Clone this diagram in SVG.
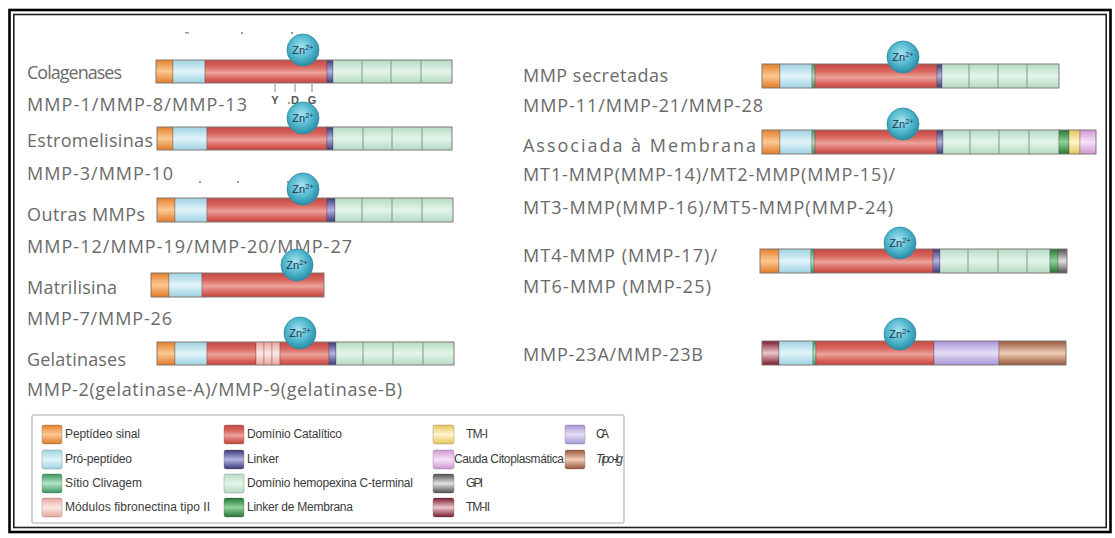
<svg xmlns="http://www.w3.org/2000/svg" width="1115" height="538" viewBox="0 0 1115 538">
<defs>
<style>
.lbl{font-family:"Open Sans","Liberation Sans",sans-serif;font-size:18px;fill:#6a6a6a;}
.leg{font-family:"Liberation Sans","Open Sans",sans-serif;font-size:12px;fill:#3a3a3a;}
.ydg{font-family:"Liberation Sans",sans-serif;font-size:11px;fill:#555;font-weight:bold;}
.zn{font-family:"Liberation Sans",sans-serif;font-size:11px;fill:#1d3550;}
.seg{stroke:rgba(70,50,50,0.35);stroke-width:0.8;}
.div{stroke:#7d9a88;stroke-width:1;}
.out{fill:none;stroke:#8c8680;stroke-width:0.8;}
.sw{stroke:rgba(80,80,80,0.35);stroke-width:0.8;}
.tick{stroke:#888;stroke-width:1;}
.dot{fill:#9a9a9a;}
.znc{fill:url(#gZn);stroke:#2b8aa3;stroke-width:0.8;}
</style>
<linearGradient id="gO" x1="0" y1="0" x2="0" y2="1"><stop offset="0" stop-color="#e3802c"/><stop offset="0.5" stop-color="#fcc893"/><stop offset="1" stop-color="#e07b28"/></linearGradient>
<linearGradient id="gB" x1="0" y1="0" x2="0" y2="1"><stop offset="0" stop-color="#9fd2e2"/><stop offset="0.5" stop-color="#e2f4f9"/><stop offset="1" stop-color="#9fd2e2"/></linearGradient>
<linearGradient id="gR" x1="0" y1="0" x2="0" y2="1"><stop offset="0" stop-color="#c44a44"/><stop offset="0.3" stop-color="#d9665f"/><stop offset="0.55" stop-color="#eba39b"/><stop offset="0.8" stop-color="#d9665f"/><stop offset="1" stop-color="#c0453f"/></linearGradient>
<linearGradient id="gG" x1="0" y1="0" x2="0" y2="1"><stop offset="0" stop-color="#b5dbc4"/><stop offset="0.5" stop-color="#e3f5ea"/><stop offset="1" stop-color="#b5dbc4"/></linearGradient>
<linearGradient id="gL" x1="0" y1="0" x2="0" y2="1"><stop offset="0" stop-color="#3a3a7c"/><stop offset="0.5" stop-color="#b4b2e2"/><stop offset="1" stop-color="#3a3a7c"/></linearGradient>
<linearGradient id="gDG" x1="0" y1="0" x2="0" y2="1"><stop offset="0" stop-color="#237533"/><stop offset="0.5" stop-color="#8ed49b"/><stop offset="1" stop-color="#237533"/></linearGradient>
<linearGradient id="gSC" x1="0" y1="0" x2="0" y2="1"><stop offset="0" stop-color="#3c9660"/><stop offset="0.5" stop-color="#b2e4c6"/><stop offset="1" stop-color="#3c9660"/></linearGradient>
<linearGradient id="gY" x1="0" y1="0" x2="0" y2="1"><stop offset="0" stop-color="#e6c45a"/><stop offset="0.5" stop-color="#fff5cc"/><stop offset="1" stop-color="#e6c45a"/></linearGradient>
<linearGradient id="gP" x1="0" y1="0" x2="0" y2="1"><stop offset="0" stop-color="#cf97d3"/><stop offset="0.5" stop-color="#f7e3f7"/><stop offset="1" stop-color="#cf97d3"/></linearGradient>
<linearGradient id="gGr" x1="0" y1="0" x2="0" y2="1"><stop offset="0" stop-color="#505050"/><stop offset="0.5" stop-color="#e0e0e0"/><stop offset="1" stop-color="#505050"/></linearGradient>
<linearGradient id="gM" x1="0" y1="0" x2="0" y2="1"><stop offset="0" stop-color="#7a1a2e"/><stop offset="0.5" stop-color="#ecc6cc"/><stop offset="1" stop-color="#7a1a2e"/></linearGradient>
<linearGradient id="gCA" x1="0" y1="0" x2="0" y2="1"><stop offset="0" stop-color="#a594d6"/><stop offset="0.5" stop-color="#e6def7"/><stop offset="1" stop-color="#a594d6"/></linearGradient>
<linearGradient id="gBr" x1="0" y1="0" x2="0" y2="1"><stop offset="0" stop-color="#97563a"/><stop offset="0.5" stop-color="#efcdb6"/><stop offset="1" stop-color="#97563a"/></linearGradient>
<linearGradient id="gF" x1="0" y1="0" x2="0" y2="1"><stop offset="0" stop-color="#e6a49c"/><stop offset="0.5" stop-color="#fce6e2"/><stop offset="1" stop-color="#e6a49c"/></linearGradient>
<radialGradient id="gZn" cx="0.45" cy="0.4" r="0.6"><stop offset="0" stop-color="#a8e4f0"/><stop offset="0.6" stop-color="#4fb6cc"/><stop offset="1" stop-color="#2a8ca6"/></radialGradient>
</defs>

<rect x="0" y="0" width="1115" height="538" fill="#ffffff"/>
<!-- frame -->
<rect x="9.5" y="10" width="1101" height="522" fill="none" stroke="#000" stroke-width="2.6"/>
<rect x="13.8" y="14.5" width="1092.4" height="513" fill="none" stroke="#222" stroke-width="1.6"/>

<!-- small artifact marks -->
<g id="marks">
<rect class="dot" x="185" y="32" width="4" height="1.5"/>
<rect class="dot" x="241" y="32" width="2" height="2"/>
<rect class="dot" x="291" y="32" width="2" height="2"/>
<rect class="dot" x="199" y="181" width="2" height="2"/>
<rect class="dot" x="237" y="181" width="2" height="2"/>
<rect class="dot" x="287" y="181" width="2" height="2"/>
</g>

<!-- labels -->
<g id="labels-left">
<text class="lbl" x="27" y="79" textLength="95">Colagenases</text>
<text class="lbl" x="27" y="111" textLength="220">MMP-1/MMP-8/MMP-13</text>
<text class="lbl" x="27" y="147" textLength="126">Estromelisinas</text>
<text class="lbl" x="27" y="180" textLength="146">MMP-3/MMP-10</text>
<text class="lbl" x="27" y="221" textLength="118">Outras MMPs</text>
<text class="lbl" x="27" y="253" textLength="325">MMP-12/MMP-19/MMP-20/MMP-27</text>
<text class="lbl" x="27" y="294" textLength="90">Matrilisina</text>
<text class="lbl" x="27" y="325" textLength="145">MMP-7/MMP-26</text>
<text class="lbl" x="27" y="366" textLength="99">Gelatinases</text>
<text class="lbl" x="27" y="396" textLength="375">MMP-2(gelatinase-A)/MMP-9(gelatinase-B)</text>
</g>
<g id="labels-right">
<text class="lbl" x="523" y="82" textLength="145">MMP secretadas</text>
<text class="lbl" x="523" y="112" textLength="240">MMP-11/MMP-21/MMP-28</text>
<text class="lbl" x="523" y="152" textLength="233">Associada à Membrana</text>
<text class="lbl" x="523" y="181" textLength="372">MT1-MMP(MMP-14)/MT2-MMP(MMP-15)/</text>
<text class="lbl" x="523" y="214" textLength="370">MT3-MMP(MMP-16)/MT5-MMP(MMP-24)</text>
<text class="lbl" x="523" y="262" textLength="194">MT4-MMP (MMP-17)/</text>
<text class="lbl" x="523" y="293" textLength="188">MT6-MMP (MMP-25)</text>
<text class="lbl" x="523" y="361" textLength="180">MMP-23A/MMP-23B</text>
</g>

<!-- Colagenases bar -->
<g id="bar-colagenases">
<rect class="seg" x="156" y="60" width="17" height="23" fill="url(#gO)"/>
<rect class="seg" x="173" y="60" width="32" height="23" fill="url(#gB)"/>
<rect class="seg" x="205" y="60" width="122" height="23" fill="url(#gR)"/>
<rect class="seg" x="327" y="60" width="6" height="23" fill="url(#gL)"/>
<rect class="seg" x="333" y="60" width="119" height="23" fill="url(#gG)"/>
<line class="div" x1="362" y1="60" x2="362" y2="83"/><line class="div" x1="391" y1="60" x2="391" y2="83"/><line class="div" x1="421" y1="60" x2="421" y2="83"/>
<rect class="out" x="156" y="60" width="296" height="23"/>
<circle class="znc" cx="303" cy="50" r="16"/>
<text class="zn" x="303" y="54" text-anchor="middle">Zn<tspan font-size="7.5" dy="-4">2+</tspan></text>
<text class="ydg" x="275" y="104" text-anchor="middle">Y</text>
<circle cx="289" cy="103" r="0.9" fill="#777"/>
<text class="ydg" x="295" y="104" text-anchor="middle">D</text>
<text class="ydg" x="312" y="104" text-anchor="middle">G</text>
</g>
<g id="connectors">
<line class="tick" x1="275" y1="84" x2="275" y2="92"/>
<line class="tick" x1="295" y1="84" x2="295" y2="92"/>
<line class="tick" x1="312" y1="84" x2="312" y2="92"/>
</g>

<!-- Estromelisinas bar -->
<g id="bar-estromelisinas">
<rect class="seg" x="157" y="127" width="16" height="23" fill="url(#gO)"/>
<rect class="seg" x="173" y="127" width="34" height="23" fill="url(#gB)"/>
<rect class="seg" x="207" y="127" width="120" height="23" fill="url(#gR)"/>
<rect class="seg" x="327" y="127" width="6" height="23" fill="url(#gL)"/>
<rect class="seg" x="333" y="127" width="119" height="23" fill="url(#gG)"/>
<line class="div" x1="363" y1="127" x2="363" y2="150"/><line class="div" x1="392" y1="127" x2="392" y2="150"/><line class="div" x1="422" y1="127" x2="422" y2="150"/>
<rect class="out" x="157" y="127" width="295" height="23"/>
<circle class="znc" cx="303" cy="118" r="16"/>
<text class="zn" x="303" y="122" text-anchor="middle">Zn<tspan font-size="7.5" dy="-4">2+</tspan></text>
</g>

<!-- Outras MMPs bar -->
<g id="bar-outras">
<rect class="seg" x="157" y="198" width="18" height="24" fill="url(#gO)"/>
<rect class="seg" x="175" y="198" width="32" height="24" fill="url(#gB)"/>
<rect class="seg" x="207" y="198" width="120" height="24" fill="url(#gR)"/>
<rect class="seg" x="327" y="198" width="8" height="24" fill="url(#gL)"/>
<rect class="seg" x="335" y="198" width="118" height="24" fill="url(#gG)"/>
<line class="div" x1="362" y1="198" x2="362" y2="222"/><line class="div" x1="392" y1="198" x2="392" y2="222"/><line class="div" x1="422" y1="198" x2="422" y2="222"/>
<rect class="out" x="157" y="198" width="296" height="24"/>
<circle class="znc" cx="303" cy="189" r="16"/>
<text class="zn" x="303" y="193" text-anchor="middle">Zn<tspan font-size="7.5" dy="-4">2+</tspan></text>
</g>

<!-- Matrilisina bar -->
<g id="bar-matrilisina">
<rect class="seg" x="151" y="273" width="18" height="24" fill="url(#gO)"/>
<rect class="seg" x="169" y="273" width="33" height="24" fill="url(#gB)"/>
<rect class="seg" x="202" y="273" width="122" height="24" fill="url(#gR)"/>
<rect class="out" x="151" y="273" width="173" height="24"/>
<circle class="znc" cx="297" cy="265" r="16"/>
<text class="zn" x="297" y="269" text-anchor="middle">Zn<tspan font-size="7.5" dy="-4">2+</tspan></text>
</g>

<!-- Gelatinases bar -->
<g id="bar-gelatinases">
<rect class="seg" x="157" y="342" width="18" height="23" fill="url(#gO)"/>
<rect class="seg" x="175" y="342" width="32" height="23" fill="url(#gB)"/>
<rect class="seg" x="207" y="342" width="49" height="23" fill="url(#gR)"/>
<rect class="seg" x="256" y="342" width="8" height="23" fill="url(#gF)"/>
<rect class="seg" x="264" y="342" width="8" height="23" fill="url(#gF)"/>
<rect class="seg" x="272" y="342" width="8" height="23" fill="url(#gF)"/>
<rect class="seg" x="280" y="342" width="49" height="23" fill="url(#gR)"/>
<rect class="seg" x="329" y="342" width="7" height="23" fill="url(#gL)"/>
<rect class="seg" x="336" y="342" width="118" height="23" fill="url(#gG)"/>
<line class="div" x1="363" y1="342" x2="363" y2="365"/><line class="div" x1="393" y1="342" x2="393" y2="365"/><line class="div" x1="423" y1="342" x2="423" y2="365"/>
<rect class="out" x="157" y="342" width="297" height="23"/>
<circle class="znc" cx="300" cy="333" r="16"/>
<text class="zn" x="300" y="337" text-anchor="middle">Zn<tspan font-size="7.5" dy="-4">2+</tspan></text>
</g>

<!-- MMP secretadas bar -->
<g id="bar-secretadas">
<rect class="seg" x="762" y="64" width="18" height="24" fill="url(#gO)"/>
<rect class="seg" x="780" y="64" width="32" height="24" fill="url(#gB)"/>
<rect class="seg" x="812" y="64" width="3" height="24" fill="url(#gSC)"/>
<rect class="seg" x="815" y="64" width="122" height="24" fill="url(#gR)"/>
<rect class="seg" x="937" y="64" width="5" height="24" fill="url(#gL)"/>
<rect class="seg" x="942" y="64" width="117" height="24" fill="url(#gG)"/>
<line class="div" x1="969" y1="64" x2="969" y2="88"/><line class="div" x1="998" y1="64" x2="998" y2="88"/><line class="div" x1="1027" y1="64" x2="1027" y2="88"/>
<rect class="out" x="762" y="64" width="297" height="24"/>
<circle class="znc" cx="903" cy="57" r="16"/>
<text class="zn" x="903" y="61" text-anchor="middle">Zn<tspan font-size="7.5" dy="-4">2+</tspan></text>
</g>

<!-- Associada a Membrana bar -->
<g id="bar-membrana">
<rect class="seg" x="762" y="130" width="18" height="24" fill="url(#gO)"/>
<rect class="seg" x="780" y="130" width="32" height="24" fill="url(#gB)"/>
<rect class="seg" x="812" y="130" width="3" height="24" fill="url(#gSC)"/>
<rect class="seg" x="815" y="130" width="122" height="24" fill="url(#gR)"/>
<rect class="seg" x="937" y="130" width="6" height="24" fill="url(#gL)"/>
<rect class="seg" x="943" y="130" width="116" height="24" fill="url(#gG)"/>
<line class="div" x1="970" y1="130" x2="970" y2="154"/><line class="div" x1="999" y1="130" x2="999" y2="154"/><line class="div" x1="1029" y1="130" x2="1029" y2="154"/>
<rect class="seg" x="1059" y="130" width="10" height="24" fill="url(#gDG)"/>
<rect class="seg" x="1069" y="130" width="11" height="24" fill="url(#gY)"/>
<rect class="seg" x="1080" y="130" width="16" height="24" fill="url(#gP)"/>
<rect class="out" x="762" y="130" width="334" height="24"/>
<circle class="znc" cx="903" cy="124" r="16"/>
<text class="zn" x="903" y="128" text-anchor="middle">Zn<tspan font-size="7.5" dy="-4">2+</tspan></text>
</g>

<!-- MT4/MT6 bar -->
<g id="bar-mt4">
<rect class="seg" x="760" y="249" width="19" height="24" fill="url(#gO)"/>
<rect class="seg" x="779" y="249" width="32" height="24" fill="url(#gB)"/>
<rect class="seg" x="811" y="249" width="3" height="24" fill="url(#gSC)"/>
<rect class="seg" x="814" y="249" width="119" height="24" fill="url(#gR)"/>
<rect class="seg" x="933" y="249" width="7" height="24" fill="url(#gL)"/>
<rect class="seg" x="940" y="249" width="110" height="24" fill="url(#gG)"/>
<line class="div" x1="968" y1="249" x2="968" y2="273"/><line class="div" x1="998" y1="249" x2="998" y2="273"/><line class="div" x1="1027" y1="249" x2="1027" y2="273"/>
<rect class="seg" x="1050" y="249" width="8" height="24" fill="url(#gDG)"/>
<rect class="seg" x="1058" y="249" width="9" height="24" fill="url(#gGr)"/>
<rect class="out" x="760" y="249" width="307" height="24"/>
<circle class="znc" cx="900" cy="243" r="16"/>
<text class="zn" x="900" y="247" text-anchor="middle">Zn<tspan font-size="7.5" dy="-4">2+</tspan></text>
</g>

<!-- MMP-23 bar -->
<g id="bar-mmp23">
<rect class="seg" x="762" y="341" width="17" height="24" fill="url(#gM)"/>
<rect class="seg" x="779" y="341" width="34" height="24" fill="url(#gB)"/>
<rect class="seg" x="813" y="341" width="3" height="24" fill="url(#gSC)"/>
<rect class="seg" x="816" y="341" width="118" height="24" fill="url(#gR)"/>
<rect class="seg" x="934" y="341" width="65" height="24" fill="url(#gCA)"/>
<rect class="seg" x="999" y="341" width="67" height="24" fill="url(#gBr)"/>
<rect class="out" x="762" y="341" width="304" height="24"/>
<circle class="znc" cx="900" cy="334" r="16"/>
<text class="zn" x="900" y="338" text-anchor="middle">Zn<tspan font-size="7.5" dy="-4">2+</tspan></text>
</g>

<!-- Legend -->
<g id="legend">
<rect x="32" y="415" width="592" height="108" rx="2" fill="#fff" stroke="#c8c8c8" stroke-width="1.6"/>
<rect class="sw" x="42" y="425" width="20" height="19" rx="2" fill="url(#gO)"/>
<text class="leg" x="65" y="438" textLength="75">Peptídeo sinal</text>
<rect class="sw" x="42" y="450" width="20" height="19" rx="2" fill="url(#gB)"/>
<text class="leg" x="65" y="463" textLength="67">Pró-peptídeo</text>
<rect class="sw" x="42" y="474" width="20" height="19" rx="2" fill="url(#gSC)"/>
<text class="leg" x="65" y="487" textLength="77">Sítio Clivagem</text>
<rect class="sw" x="42" y="498" width="20" height="19" rx="2" fill="url(#gF)"/>
<text class="leg" x="65" y="511" textLength="145">Módulos fibronectina tipo II</text>

<rect class="sw" x="224" y="425" width="20" height="19" rx="2" fill="url(#gR)"/>
<text class="leg" x="247" y="438" textLength="95">Domínio Catalítico</text>
<rect class="sw" x="224" y="450" width="20" height="19" rx="2" fill="url(#gL)"/>
<text class="leg" x="247" y="463" textLength="32">Linker</text>
<rect class="sw" x="224" y="474" width="20" height="19" rx="2" fill="url(#gG)"/>
<text class="leg" x="247" y="487" textLength="166">Domínio hemopexina C-terminal</text>
<rect class="sw" x="224" y="498" width="20" height="19" rx="2" fill="url(#gDG)"/>
<text class="leg" x="247" y="511" textLength="106">Linker de Membrana</text>

<rect class="sw" x="433" y="425" width="21" height="19" rx="2" fill="url(#gY)"/>
<text class="leg" x="466" y="438" textLength="22">TM-I</text>
<rect class="sw" x="433" y="450" width="21" height="19" rx="2" fill="url(#gP)"/>
<text class="leg" x="454" y="463" textLength="110">Cauda Citoplasmática</text>
<rect class="sw" x="433" y="474" width="21" height="19" rx="2" fill="url(#gGr)"/>
<text class="leg" x="466" y="487" textLength="17">GPI</text>
<rect class="sw" x="433" y="498" width="21" height="19" rx="2" fill="url(#gM)"/>
<text class="leg" x="466" y="511" textLength="24">TM-II</text>

<rect class="sw" x="565" y="425" width="20" height="19" rx="2" fill="url(#gCA)"/>
<text class="leg" x="596" y="438" textLength="13">CA</text>
<rect class="sw" x="565" y="450" width="20" height="19" rx="2" fill="url(#gBr)"/>
<text class="leg" x="596" y="463" textLength="27" font-style="italic">Tipo-Ig</text>
</g>
</svg>
